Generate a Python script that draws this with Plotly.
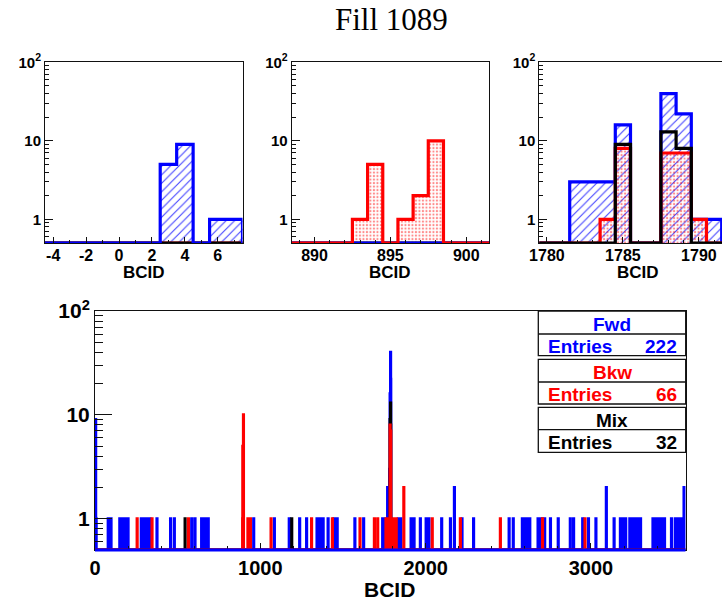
import numpy as np
import plotly.graph_objects as go

# ---------------------------------------------------------------------------
# BCID occupancy for Fill 1089 (one bin per BCID, value = number of entries)
# ---------------------------------------------------------------------------
fwd_bcid = [3, 4, 6, 7,
            80, 88, 97,
            150, 158, 165, 172, 180, 190, 200,
            280, 288, 295, 302, 310, 318, 325, 332,
            375, 457, 480,
            585, 605,
            645, 652, 665, 672, 685,
            960, 1085, 1175,
            1238, 1280, 1343, 1360, 1368, 1380, 1410, 1445, 1455, 1465,
            1572, 1625, 1740, 1750, 1770,
            1782, 1783, 1784, 1785, 1788, 1789, 1790, 1791,
            1835, 1850,
            1912, 1930, 1968, 2003, 2012, 2020,
            2097, 2150, 2174, 2220, 2290,
            2505, 2530,
            2585, 2592, 2600, 2608, 2615, 2622, 2630,
            2680, 2690, 2700, 2720, 2755, 2802,
            2875, 2895,
            2950, 2985, 3030, 3093, 3140,
            3178, 3186, 3195, 3202, 3210,
            3235, 3242, 3250, 3262,
            3275, 3282, 3290, 3300,
            3375, 3382, 3390, 3398, 3405, 3412, 3420, 3428, 3435, 3445,
            3487,
            3510, 3517, 3525, 3532, 3540, 3548, 3555,
            3563]
fwd_count = [5, 9, 1, 1,
             1, 1, 1,
             1, 1, 1, 1, 1, 1, 1,
             1, 1, 1, 1, 1, 1, 1, 1,
             1, 1, 1,
             1, 1,
             1, 1, 1, 1, 1,
             1, 1, 1,
             1, 1, 1, 1, 1, 1, 1, 1, 1, 1,
             1, 1, 1, 1, 2,
             3, 3, 3, 16, 40, 22, 1, 1,
             1, 1,
             1, 1, 1, 1, 1, 1,
             1, 1, 2, 1, 1,
             1, 1,
             1, 1, 1, 1, 1, 1, 1,
             1, 1, 1, 1, 1, 1,
             1, 1,
             1, 1, 1, 2, 1,
             1, 1, 1, 1, 1,
             1, 1, 1, 1,
             1, 1, 1, 1,
             1, 1, 1, 1, 1, 1, 1, 1, 1, 1,
             1,
             1, 1, 1, 1, 1, 1, 1,
             2]

bkw_bcid = [255, 345, 565,
            893, 894, 896, 897, 898,
            925, 940, 1065, 1310, 1436, 1603, 1690, 1710, 1760, 1768,
            1784, 1785, 1788, 1789, 1790,
            1805, 1815, 1822, 1868,
            2040, 2210, 2452, 2707, 2964]
bkw_count = [1, 1, 1,
             1, 5, 1, 2, 10,
             1, 1, 1, 1, 1, 1, 1, 1, 1, 1,
             1, 8, 7, 7, 1,
             1, 1, 1, 2,
             1, 1, 1, 1, 1]

mix_bcid = [545, 1190, 1785, 1788, 1789]
mix_count = [1, 1, 9, 13, 8]

series = ["Fwd", "Bkw", "Mix"]
colors = {"Fwd": "#0000ff", "Bkw": "#ff0000", "Mix": "#000000"}

# zoom windows of the three upper pads and their labelled ticks
zoom_ranges = [(-4.5, 7.5), (888.5, 901.5), (1779.5, 1791.52)]
zoom_ticks = [[-4, -2, 0, 2, 4, 6], [890, 895, 900], [1780, 1785, 1790]]
full_ticks = [0, 1000, 2000, 3000]

# ---------------------------------------------------------------------------
# histogram binning
# ---------------------------------------------------------------------------
LO, HI = -5, 3570
centers = np.arange(LO, HI + 1)
Y_MIN, Y_MAX = 0.5, 100.0           # log-scale window; empty bins sit on the floor
FLOOR = Y_MIN


def fill(bcids, counts):
    h = np.zeros(len(centers))
    np.add.at(h, np.asarray(bcids) - LO, np.asarray(counts, dtype=float))
    return h


hists = {"Fwd": fill(fwd_bcid, fwd_count),
         "Bkw": fill(bkw_bcid, bkw_count),
         "Mix": fill(mix_bcid, mix_count)}


def step_trace(name, lo, hi, xa, ya, width=3):
    sel = (centers >= np.floor(lo)) & (centers <= np.ceil(hi))
    h = hists[name][sel]
    xs = np.append(centers[sel] - 0.5, centers[sel][-1] + 0.5)
    ys = np.maximum(np.append(h, h[-1]), FLOOR)
    return go.Scatter(x=xs, y=ys, mode="lines", line_shape="hv",
                      line=dict(color=colors[name], width=width),
                      xaxis=xa, yaxis=ya, hoverinfo="skip", showlegend=False)


def fill_trace(name, lo, hi, xa, ya):
    sel = (centers >= np.floor(lo)) & (centers <= np.ceil(hi)) & (hists[name] > 0)
    if name == "Fwd":
        pat = dict(shape="/", fgcolor=colors[name], fgopacity=0.75, size=6,
                   solidity=0.18, bgcolor="rgba(0,0,0,0)")
    else:
        pat = dict(shape=".", fgcolor=colors[name], fgopacity=0.45, size=3.5,
                   solidity=0.3, bgcolor="rgba(0,0,0,0)")
    return go.Bar(x=centers[sel], y=hists[name][sel], width=1.0,
                  marker=dict(color="rgba(0,0,0,0)", line=dict(width=0), pattern=pat),
                  xaxis=xa, yaxis=ya, hoverinfo="skip", showlegend=False)


fig = go.Figure()

# upper pads: hatched/dotted fills first, then outlines
pad_axes = [("x2", "y2"), ("x3", "y3"), ("x4", "y4")]
line_orders = [["Bkw", "Mix", "Fwd"], ["Mix", "Fwd", "Bkw"], ["Fwd", "Bkw", "Mix"]]
for (lo, hi), (xa, ya), order in zip(zoom_ranges, pad_axes, line_orders):
    for name in ["Fwd", "Bkw"]:
        if np.any(hists[name][(centers >= lo) & (centers <= hi)] > 0):
            fig.add_trace(fill_trace(name, lo, hi, xa, ya))
    for name in order:
        fig.add_trace(step_trace(name, lo, hi, xa, ya, width=3.2))

# full-range pad
for name in ["Fwd", "Mix", "Bkw"]:
    fig.add_trace(step_trace(name, LO, HI, "x", "y", width=3))

# ---------------------------------------------------------------------------
# layout
# ---------------------------------------------------------------------------
W, H = 722, 600
FONT = "Liberation Sans"


def px_x(p):
    return p / W


def px_y(p):
    return 1 - p / H


log_range = [np.log10(Y_MIN), np.log10(Y_MAX)]
minor_y = [0.6, 0.7, 0.8, 0.9] + list(range(2, 10)) + list(range(20, 100, 10))


def yaxis(domain, fsize, major_len, minor_len, anchor, mirror=True):
    return dict(domain=domain, type="log", range=log_range, anchor=anchor,
                tickvals=[1, 10, 100], ticktext=["1", "10", "10<sup>2</sup>"],
                ticks="inside", ticklen=major_len, tickwidth=1, tickcolor="#111",
                minor=dict(tickvals=minor_y, ticks="inside", ticklen=minor_len,
                           tickcolor="#111", showgrid=False),
                showline=True, linecolor="#111", linewidth=1, mirror=mirror,
                showgrid=False, zeroline=False, automargin=False,
                tickfont=dict(family=FONT, size=fsize, color="black", weight="bold"))


def xaxis(domain, rng, tickvals, minor_dtick, fsize, major_len, minor_len, anchor, standoff=0):
    return dict(domain=domain, range=list(rng), tickvals=tickvals,
                ticktext=[str(t) for t in tickvals],
                ticks="inside", ticklen=major_len, tickwidth=1, tickcolor="#111",
                minor=dict(dtick=minor_dtick, tick0=0, ticks="inside", ticklen=minor_len,
                           tickcolor="#111", showgrid=False),
                showline=True, linecolor="#111", linewidth=1, mirror=True,
                showgrid=False, zeroline=False, anchor=anchor, automargin=False,
                ticklabelstandoff=standoff,
                tickfont=dict(family=FONT, size=fsize, color="black", weight="bold"))


top_dom = [px_y(243), px_y(62.3)]
pad_x = [[px_x(45), px_x(242.5)], [px_x(291.7), px_x(489)], [px_x(539.3), 1.0]]

fig.update_layout(
    width=W, height=H, autosize=False,
    margin=dict(l=0, r=0, t=0, b=0, pad=0, autoexpand=False),
    paper_bgcolor="white", plot_bgcolor="white",
    barmode="overlay", bargap=0, showlegend=False,
    xaxis=xaxis([px_x(95), px_x(685.7)], (0, 3573), full_ticks, 200, 20, 7, 4, "y"),
    yaxis=yaxis([px_y(550), px_y(311)], 21, 17, 8, "x"),
    xaxis2=xaxis(pad_x[0], zoom_ranges[0], zoom_ticks[0], 1, 16, 6, 3, "y2", -2),
    yaxis2=yaxis(top_dom, 15, 8, 4, "x2"),
    xaxis3=xaxis(pad_x[1], zoom_ranges[1], zoom_ticks[1], 1, 16, 6, 3, "y3", -2),
    yaxis3=yaxis(top_dom, 15, 8, 4, "x3"),
    xaxis4=xaxis(pad_x[2], zoom_ranges[2], zoom_ticks[2], 1, 16, 6, 3, "y4", -2),
    yaxis4=yaxis(top_dom, 15, 8, 4, "x4", mirror=False),
)

annotations = []
shapes = []

# blue floor line of the full-range pad
shapes.append(dict(type="line", xref="x", yref="y domain", x0=0, x1=3573, y0=0, y1=0,
                   line=dict(color=colors["Fwd"], width=3), layer="above"))

# title
annotations.append(dict(text="Fill 1089", x=px_x(391), y=px_y(20), xref="paper", yref="paper",
                        xanchor="center", yanchor="middle", showarrow=False,
                        font=dict(family="Liberation Serif", size=31, color="black")))

# axis titles
for cx in [143.7, 390.3, 637.6]:
    annotations.append(dict(text="BCID", x=px_x(cx), y=px_y(272.5), xref="paper", yref="paper",
                            xanchor="center", yanchor="middle", showarrow=False,
                            font=dict(family=FONT, size=17, color="black", weight="bold")))
annotations.append(dict(text="BCID", x=px_x(390), y=px_y(589), xref="paper", yref="paper",
                        xanchor="center", yanchor="middle", showarrow=False,
                        font=dict(family=FONT, size=21, color="black", weight="bold")))

# statistics boxes
box_x0, box_x1 = 538.3, 685.7
box_rows = [(311, 334, 355.7), (359.3, 382, 404), (407.3, 429.7, 452.3)]
for name, (top, mid, bot) in zip(series, box_rows):
    entries = int(hists[name].sum())
    shapes.append(dict(type="rect", xref="paper", yref="paper",
                       x0=px_x(box_x0), x1=px_x(box_x1), y0=px_y(bot), y1=px_y(top),
                       fillcolor="white", line=dict(color="#111", width=1.3), layer="above"))
    shapes.append(dict(type="line", xref="paper", yref="paper",
                       x0=px_x(box_x0), x1=px_x(box_x1), y0=px_y(mid), y1=px_y(mid),
                       line=dict(color="#111", width=1.3), layer="above"))
    bfont = dict(family=FONT, size=19, color=colors[name], weight="bold")
    annotations.append(dict(text=name, x=px_x((box_x0 + box_x1) / 2), y=px_y((top + mid) / 2 + 1.5),
                            xref="paper", yref="paper", xanchor="center", yanchor="middle",
                            showarrow=False, font=bfont))
    annotations.append(dict(text="Entries", x=px_x(546), y=px_y((mid + bot) / 2 + 1.5),
                            xref="paper", yref="paper", xanchor="left", yanchor="middle",
                            showarrow=False, font=bfont))
    annotations.append(dict(text=str(entries), x=px_x(679), y=px_y((mid + bot) / 2 + 1.5),
                            xref="paper", yref="paper", xanchor="right", yanchor="middle",
                            showarrow=False, font=bfont))

fig.update_layout(annotations=annotations, shapes=shapes)
fig.write_html("out.html")
